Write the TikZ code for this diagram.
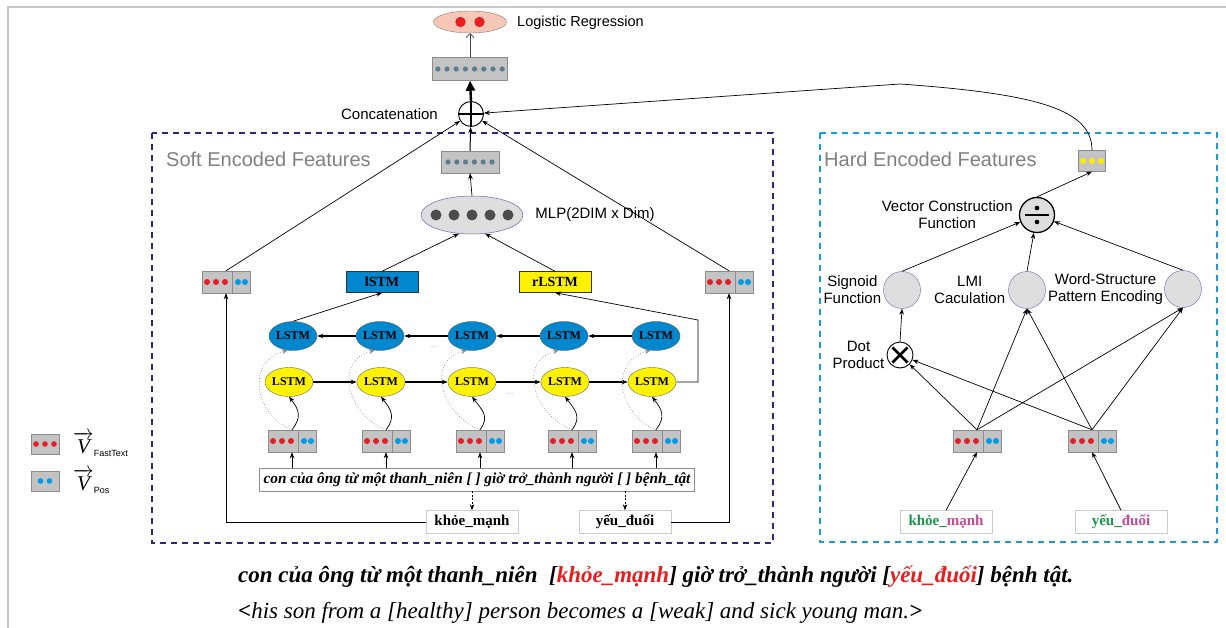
\documentclass[tikz,border=0pt]{standalone}
\usepackage{amsmath}
\usepackage{fontspec}
\setmainfont{Liberation Sans}
\newfontfamily\timesfont{Liberation Serif}
\usetikzlibrary{arrows.meta,positioning,calc,shapes.geometric}
\definecolor{softnavy}{RGB}{45,40,125}
\definecolor{hardcyan}{RGB}{25,155,225}
\definecolor{vecgray}{RGB}{195,195,195}
\definecolor{dotred}{RGB}{228,30,38}
\definecolor{dotblue}{RGB}{0,155,228}
\definecolor{dotslate}{RGB}{90,125,140}
\definecolor{dotyellow}{RGB}{255,236,0}
\definecolor{lstmblue}{RGB}{0,135,205}
\definecolor{lstmyellow}{RGB}{255,242,0}
\definecolor{lrsalmon}{RGB}{246,198,182}
\definecolor{unitgray}{RGB}{222,222,222}
\definecolor{wordgreen}{RGB}{25,150,75}
\definecolor{wordpink}{RGB}{195,75,150}
\definecolor{framegray}{RGB}{200,200,200}
\definecolor{labelgray}{RGB}{128,128,128}
\definecolor{maskred}{RGB}{230,30,30}

\begin{document}
\begin{tikzpicture}[x=1pt,y=-1pt,
  arr/.style={-{Stealth[length=6pt,width=4.5pt]},line width=0.7pt},
  grayarr/.style={-{Stealth[length=6pt,width=4.5pt]},draw=black!45,dotted,line width=0.7pt},
  chain/.style={arr,line width=1.1pt},
  vecbox/.style={draw=black!45,fill=vecgray,minimum width=#1,minimum height=22pt,inner sep=0pt},
  vecbox/.default=48pt,
  featvec/.pic={
    \node[vecbox] (-box) {};
    \foreach \dx in {-19,-10,-1} \fill[dotred] (\dx,0) circle (3);
    \draw[black!45] (6,-11) -- (6,11);
    \foreach \dx in {12,19} \fill[dotblue] (\dx,0) circle (3);
  },
  lstmf/.style={ellipse,draw=black!60,line width=0.4pt,fill=lstmyellow,minimum width=46pt,
    minimum height=29pt,inner sep=0pt,font=\timesfont\bfseries\fontsize{12}{12}\selectfont},
  lstmb/.style={lstmf,fill=lstmblue},
  lstmbox/.style={draw=black!80,minimum width=72pt,minimum height=21pt,inner sep=0pt,
    font=\timesfont\bfseries\fontsize{14}{14}\selectfont},
  wordbox/.style={draw=black!20,fill=white,minimum width=92pt,minimum height=23pt,inner sep=0pt,
    font=\timesfont\bfseries\fontsize{15}{15}\selectfont},
  opcirc/.style={circle,draw,line width=0.9pt,inner sep=0pt},
  unit/.style={circle,draw=softnavy!70,line width=0.4pt,fill=unitgray,minimum size=37pt,inner sep=0pt},
  slabel/.style={inner sep=1pt,font=\fontsize{15}{17}\selectfont},
  hlabel/.style={inner sep=1pt,align=center,font=\fontsize{15}{17}\selectfont},
  title/.style={anchor=west,inner sep=0pt,text=labelgray,font=\fontsize{20}{20}\selectfont},
  frame/.style={dash pattern=on 6pt off 5pt,line width=2.2pt}
]
\useasboundingbox (0,0) rectangle (1226,628);
\draw[framegray,line width=1.2pt] (8,628) -- (8,7) -- (1226,7);

% output layers
\node[ellipse,draw=lrsalmon!60!black,line width=0.4pt,fill=lrsalmon,minimum width=73pt,minimum height=22pt] (logreg) at (470,22) {};
\fill[maskred] ($(logreg)+(-9.5,0)$) circle (5.2);
\fill[maskred] ($(logreg)+(9.5,0)$) circle (5.2);
\node[slabel,anchor=west,font=\fontsize{14.5}{16}\selectfont] (loglabel) at (516,23) {Logistic Regression};
\node[vecbox=75pt,minimum height=23pt] (outvec) at (470,69) {};
\foreach \k in {0,...,7} \fill[dotslate] ($(outvec)+({-32.2+9.2*\k},0)$) circle (2.6);
\node[opcirc,minimum size=25pt,fill=white] (concat) at (471,114) {};
\draw[line width=2.4pt] (concat.north) -- (concat.south) (concat.west) -- (concat.east);
\node[slabel,left=19pt of concat] (concatlabel) {Concatenation};
\draw[-{Straight Barb[length=4pt]},black!75,line width=0.6pt] (outvec.north) -- (logreg.south);
\draw[-{Triangle[length=10pt,width=9pt]},line width=2.4pt] (concat.north) -- (outvec.south);

% soft encoded features
\draw[frame,softnavy] (152,133) rectangle (773,543);
\node[title] (softtitle) at (166,159) {Soft Encoded Features};
\node[vecbox=58pt] (mlpout) at (470,162) {};
\foreach \k in {0,...,5} \fill[dotslate] ($(mlpout)+({-22+8.8*\k},0)$) circle (2.6);
\node[ellipse,draw=softnavy!70,line width=0.5pt,fill=unitgray,minimum width=102pt,minimum height=38pt] (mlp) at (472,215) {};
\foreach \k in {-2,...,2} \fill[black!70] ($(mlp)+({18*\k},0)$) circle (5.5);
\node[slabel,right=11pt of mlp] (mlplabel) {MLP(2DIM x Dim)};
\node[lstmbox,fill=lstmblue] (lstmbox) at (382,282) {lSTM};
\node[lstmbox,fill=lstmyellow] (rlstmbox) at (555,282) {rLSTM};
\pic (lv) at (226,282) {featvec};
\pic (rv) at (729,282) {featvec};

\foreach \i/\bx/\fx/\vx in {1/293/289/292,2/380/381/386,3/472/472/480,4/564/565/572,5/656/652/656}{
  \node[lstmb] (lb\i) at (\bx,336) {LSTM};
  \node[lstmf] (lf\i) at (\fx,382) {LSTM};
  \pic (in\i) at (\vx,441) {featvec};
}
\node[font=\tiny,text=black!50] (gapb) at (434,347) {.....};
\node[font=\tiny,text=black!50] (gapf) at (510,394) {.....};

\node[draw=black!45,fill=white,inner sep=4pt,minimum height=23pt,
  font=\timesfont\bfseries\itshape\fontsize{15.3}{16}\selectfont] (sent) at (477,479.5)
  {con của ông từ một thanh\_niên [ ] giờ trở\_thành người [ ] bệnh\_tật};
\node[wordbox] (skw) at (472,522) {khỏe\_mạnh};
\node[wordbox] (syw) at (625,522) {yếu\_đuối};

\foreach \i/\j in {1/2,2/3,3/4,4/5}{
  \draw[chain] (lb\j) -- (lb\i);
  \draw[chain] (lf\i) -- (lf\j);
}
\foreach \i in {1,...,5}{
  \draw[arr] (in\i-box.north) .. controls ($(in\i-box.north)+(10,-13)$) and ($(lf\i.south)+(10,13)$) .. (lf\i.south);
  \draw[grayarr] (in\i-box.north) .. controls ($(in\i-box.north)+(-38,-15)$) and ($(lb\i.250)+(-42,11)$) .. (lb\i.250);
  \draw[arr] (sent.north -| in\i-box.south) -- (in\i-box.south);
}
\draw[arr,dash pattern=on 2pt off 1.5pt] (sent.south -| skw.north) -- (skw.north);
\draw[arr,dash pattern=on 2pt off 1.5pt] (sent.south -| syw.north) -- (syw.north);
\draw[arr] (skw.west) -| (lv-box.south);
\draw[arr] (syw.east) -| (rv-box.south);
\draw[arr] (lb1.north) -- (lstmbox.south);
\coordinate (rturn) at (698,320);
\draw[arr] (lf5.east) -| (rturn) -- (rlstmbox.south);
\draw[arr] (lstmbox.north) -- (mlp.235);
\draw[arr] (rlstmbox.north) -- (mlp.305);
\draw[arr] (mlp.north) -- (mlpout.south);
\draw[arr,line width=1pt] (mlpout.north) -- (concat);
\draw[arr] (lv-box.north) -- (concat);
\draw[arr] (rv-box.north) -- (concat);

% hard encoded features
\draw[frame,hardcyan] (820,133) rectangle (1217,542);
\node[title] (hardtitle) at (824,159) {Hard Encoded Features};
\node[vecbox=27pt,minimum height=21pt] (hvec) at (1092,161) {};
\foreach \dx in {-9,0,9} \fill[dotyellow] ($(hvec)+(\dx,0)$) circle (3);
\node[opcirc,fill=unitgray,minimum size=35pt,line width=1.3pt] (divop) at (1037,215) {};
\draw[line width=2pt] ($(divop)+(-12,0)$) -- ($(divop)+(12,0)$);
\fill ($(divop)+(0,-7)$) circle (2.3);
\fill ($(divop)+(0,7)$) circle (2.3);
\node[hlabel,left=5pt of divop] (vcflabel) {Vector Construction\\Function};
\node[unit] (sigc) at (902,290) {};
\node[unit] (lmic) at (1027,290) {};
\node[unit] (wspc) at (1183,289) {};
\node[hlabel,left=1pt of sigc] (siglabel) {Signoid\\Function};
\node[hlabel,left=2pt of lmic] (lmilabel) {LMI\\Caculation};
\node[hlabel,left=0pt of wspc] (wsplabel) {Word-Structure\\Pattern Encoding};
\node[opcirc,minimum size=26pt,fill=white] (dotop) at (900,355) {};
\draw[line width=2.6pt] ($(dotop)!0.8!(dotop.45)$) -- ($(dotop)!0.8!(dotop.225)$)
  ($(dotop)!0.8!(dotop.135)$) -- ($(dotop)!0.8!(dotop.315)$);
\node[hlabel,left=1pt of dotop] (dotlabel) {Dot\\Product};
\pic (hk) at (977,441) {featvec};
\pic (hy) at (1092,441) {featvec};
\node[wordbox] (hkw) at (946,522) {\textcolor{wordgreen}{khỏe\_}\textcolor{wordpink}{mạnh}};
\node[wordbox] (hyw) at (1121,522) {\textcolor{wordgreen}{yếu\_}\textcolor{wordpink}{đuối}};

\draw[arr] (hkw.north) -- (hk-box.south);
\draw[arr] (hyw.north) -- (hy-box.south);
\foreach \v in {hk,hy}{
  \draw[arr] (\v-box.north) -- (dotop);
  \draw[arr] (\v-box.north) -- (lmic.south);
  \draw[arr] (\v-box.north) -- (wspc.south);
}
\draw[arr] (dotop.north) -- (sigc.south);
\draw[arr] (sigc.north) -- (divop);
\draw[arr] (lmic.north) -- (divop);
\draw[arr] (wspc.north) -- (divop);
\draw[arr] (divop.north) -- (hvec.south);
\coordinate (bendpt) at (900,84);
\draw[arr] (hvec.north) .. controls (1092,110) and (1040,94) .. (bendpt) -- (concat);

% legend
\node[vecbox=28pt,minimum height=20pt] (legft) at (45,444) {};
\foreach \dx in {-9,0,9} \fill[dotred] ($(legft)+(\dx,0)$) circle (2.8);
\node[vecbox=28pt,minimum height=20pt] (legpos) at (45,481) {};
\foreach \dx in {-4.5,4.5} \fill[dotblue] ($(legpos)+(\dx,0)$) circle (2.8);
\node[anchor=west,inner sep=0pt,font=\fontsize{21}{21}\selectfont] (legftlabel) at (73,444)
  {$\overrightarrow{\text{\timesfont\itshape V}}_{\text{\fontsize{9}{9}\selectfont FastText}}$};
\node[anchor=west,inner sep=0pt,font=\fontsize{21}{21}\selectfont] (legposlabel) at (73,481)
  {$\overrightarrow{\text{\timesfont\itshape V}}_{\text{\fontsize{9}{9}\selectfont Pos}}$};

% example sentence
\node[anchor=west,inner sep=0pt,font=\timesfont\bfseries\itshape\fontsize{23}{25}\selectfont] (example) at (238,577)
  {con của ông từ một thanh\_niên\ \ [\textcolor{maskred}{khỏe\_mạnh}] giờ trở\_thành người [\textcolor{maskred}{yếu\_đuối}] bệnh tật.};
\node[anchor=west,inner sep=0pt,font=\timesfont\itshape\fontsize{23}{25}\selectfont] (gloss) at (238,613)
  {\textbf{<}his son from a [healthy] person becomes a [weak] and sick young man.\textbf{>}};
\end{tikzpicture}
\end{document}
